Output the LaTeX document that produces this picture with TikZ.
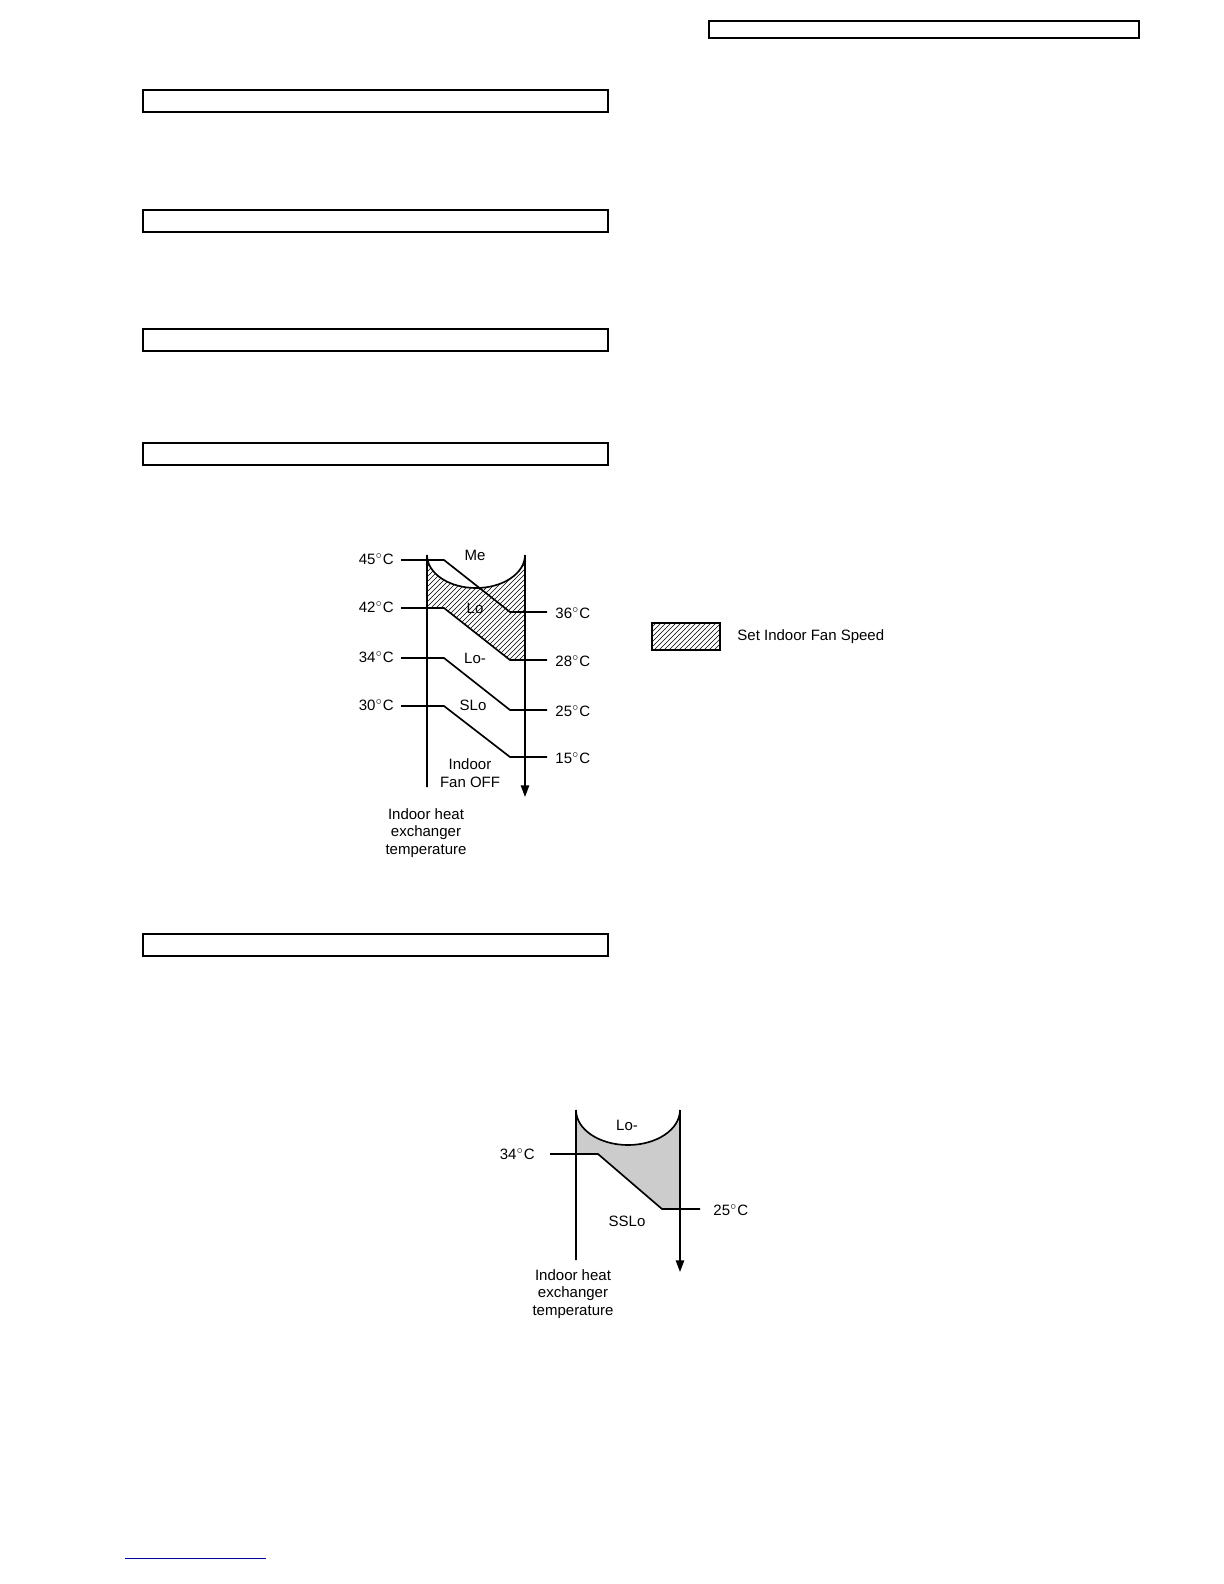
\documentclass[tikz,border=0pt]{standalone}
\usepackage{fontspec}
\setmainfont{Liberation Sans}
\usetikzlibrary{patterns, arrows.meta}

\begin{document}
\begin{tikzpicture}[x=0.6pt, y=-0.6pt, line width=0.9pt, >={Triangle[length=7pt,width=5pt]},
	every node/.style={font=\fontsize{9}{10.5}\selectfont, inner sep=1pt},
	frame/.style={draw, line width=0.8pt},
	temp/.style={draw, line width=1pt},
	hatch/.style={pattern=north east lines},
	lbl/.style={align=center}]
	\useasboundingbox (0,0) rectangle (1224,1584);

	% title boxes
	\draw[frame] (709,21) rectangle (1139,38);
	\foreach \y in {90,210,329,443,934}
		\draw[frame] (143,\y) rectangle (608,\y+22);
	\draw[blue!60!black, line width=0.6pt] (125,1558) -- (266,1558);

	% first chart
	\fill[hatch] (427,608) -- (427,555) arc[start angle=180, end angle=0, x radius=49, y radius=33]
		-- (525,660) -- (510,660) -- (444,608) -- cycle;
	\draw[temp] (427,787) -- (427,555) arc[start angle=180, end angle=0, x radius=49, y radius=33];
	\draw[temp, ->] (525,555) -- (525,797);
	\foreach \ya/\yb/\ta/\tb in {560/612/45/36, 608/660/42/28, 658/710/34/25, 706/757/30/15} {
		\node[anchor=east] (l\ta) at (396,\ya-1) {\ta$^\circ$C};
		\node[anchor=west] (r\tb) at (553,\yb+1) {\tb$^\circ$C};
		\draw[temp] (l\ta.east) ++(5,1) -- (444,\ya) -- (510,\yb) -- (547,\yb);
	}
	\node (me) at (475,555) {Me};
	\node (lo) at (475,608) {Lo};
	\node (lom) at (475,658) {Lo-};
	\node (slo) at (473,705) {SLo};
	\node[lbl] (off) at (470,773) {Indoor\\Fan OFF};
	\node[lbl] (hx) at (426,833) {Indoor heat\\exchanger\\temperature};

	% legend
	\draw[hatch] (652,623) rectangle (720,650);
	\draw[line width=0.8pt] (652,623) rectangle (720,650);
	\node[anchor=west] (set) at (735,637) {Set Indoor Fan Speed};

	% second chart
	\fill[gray!40] (576,1154) -- (576,1110) arc[start angle=180, end angle=0, x radius=52, y radius=35]
		-- (680,1209) -- (662,1209) -- (598,1154) -- cycle;
	\draw[temp] (576,1260) -- (576,1110) arc[start angle=180, end angle=0, x radius=52, y radius=35];
	\draw[temp, ->] (680,1110) -- (680,1272);
	\node[anchor=east] (l34b) at (537,1154) {34$^\circ$C};
	\node[anchor=west] (r25b) at (711,1210) {25$^\circ$C};
	\draw[temp] (550,1154) -- (598,1154) -- (662,1209) -- (700,1209);
	\node (lomb) at (627,1125) {Lo-};
	\node (sslo) at (627,1221) {SSLo};
	\node[lbl] (hxb) at (573,1294) {Indoor heat\\exchanger\\temperature};
\end{tikzpicture}
\end{document}
